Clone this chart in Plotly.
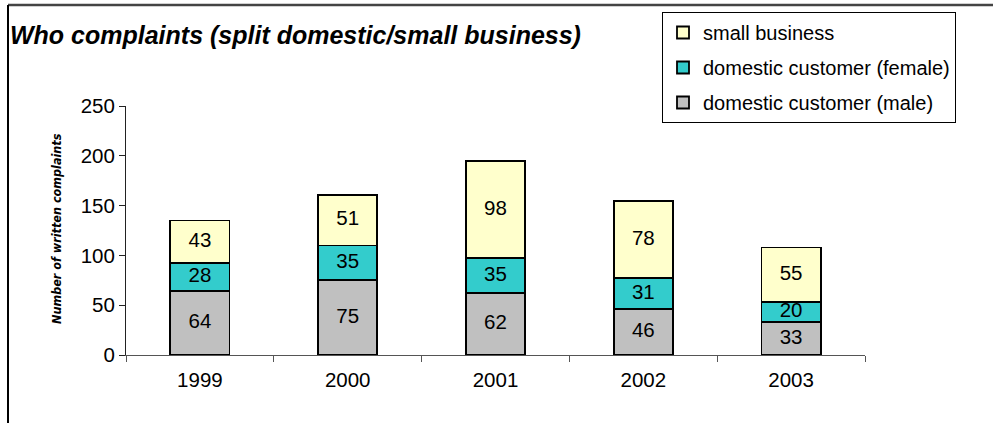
import plotly.graph_objects as go

years = ["1999", "2000", "2001", "2002", "2003"]
male = [64, 75, 62, 46, 33]
female = [28, 35, 35, 31, 20]
small_business = [43, 51, 98, 78, 55]

series_names = ["domestic customer (male)", "domestic customer (female)", "small business"]
series_values = [male, female, small_business]
series_colors = ["#C0C0C0", "#33CCCC", "#FFFFCC"]

W, H = 993, 423
L, R, T, B = 126, 128, 106, 68
FONT = "Liberation Sans, Arial, sans-serif"

def px_x(p):
    return (p - L) / (W - L - R)

def px_y(p):
    return (H - B - p) / (H - T - B)

fig = go.Figure()
for i, (name, vals, col) in enumerate(zip(series_names, series_values, series_colors)):
    fig.add_trace(go.Bar(
        x=years, y=vals, name=name,
        marker=dict(color=col, line=dict(color="black", width=1.8)),
        textposition="none",
        legendgroup=f"g{i}", legendrank=len(series_names) - i,
    ))

# data labels at the middle of each stacked segment
base = [0] * len(years)
for vals in series_values:
    mids = [b + v / 2 for b, v in zip(base, vals)]
    fig.add_trace(go.Scatter(
        x=years, y=mids, mode="text", text=[str(v) for v in vals],
        textposition="middle center",
        textfont=dict(family=FONT, size=20.5, color="black"),
        showlegend=False, hoverinfo="skip",
    ))
    base = [b + v for b, v in zip(base, vals)]

fig.update_layout(
    width=W, height=H,
    margin=dict(l=L, r=R, t=T, b=B, pad=0),
    barmode="stack", bargap=0.6,
    plot_bgcolor="white", paper_bgcolor="white",
    font=dict(family=FONT, size=20.5, color="black"),
    title=dict(
        text="<b><i>Who complaints (split domestic/small business)</i></b>",
        x=10 / W, xanchor="left", y=1 - 35 / H, yanchor="middle",
        font=dict(family=FONT, size=25, color="black"),
    ),
    legend=dict(
        x=px_x(662), y=px_y(12), xanchor="left", yanchor="top",
        traceorder="grouped", tracegroupgap=6,
        bordercolor="black", borderwidth=1, bgcolor="white",
        font=dict(family=FONT, size=20, color="black"),
    ),
    showlegend=True,
)

fig.update_xaxes(
    type="category", range=[-0.5, 4.5],
    showline=True, linecolor="#555555", linewidth=1,
    ticks="outside", ticklen=6, tickcolor="#555555", tickson="boundaries",
    ticklabelstandoff=6,
    showgrid=False, zeroline=False,
    tickfont=dict(family=FONT, size=20.5, color="black"),
)
fig.update_yaxes(
    range=[0, 250], tickvals=[0, 50, 100, 150, 200, 250],
    showline=True, linecolor="#222222", linewidth=1,
    ticks="outside", ticklen=6, tickcolor="#222222",
    showgrid=False, zeroline=False,
    tickfont=dict(family=FONT, size=20.5, color="black"),
)

fig.add_annotation(
    text="<b><i>Number of written complaints</i></b>",
    xref="paper", yref="paper", x=px_x(56), y=px_y(229),
    xanchor="center", yanchor="middle", textangle=-90, showarrow=False,
    font=dict(family="DejaVu Sans Condensed, Liberation Sans Narrow, Arial", size=12.5, color="black"),
)

# chart frame (top and left edges)
fig.add_shape(type="line", xref="paper", yref="paper",
              x0=px_x(8), y0=px_y(5), x1=px_x(993), y1=px_y(5),
              line=dict(color="#444444", width=2.5))
fig.add_shape(type="line", xref="paper", yref="paper",
              x0=px_x(8), y0=px_y(5), x1=px_x(8), y1=px_y(423),
              line=dict(color="black", width=2))

fig.write_html("out.html", config={"displayModeBar": False},
               post_script="document.body.style.margin='0';document.body.style.overflow='hidden';")
